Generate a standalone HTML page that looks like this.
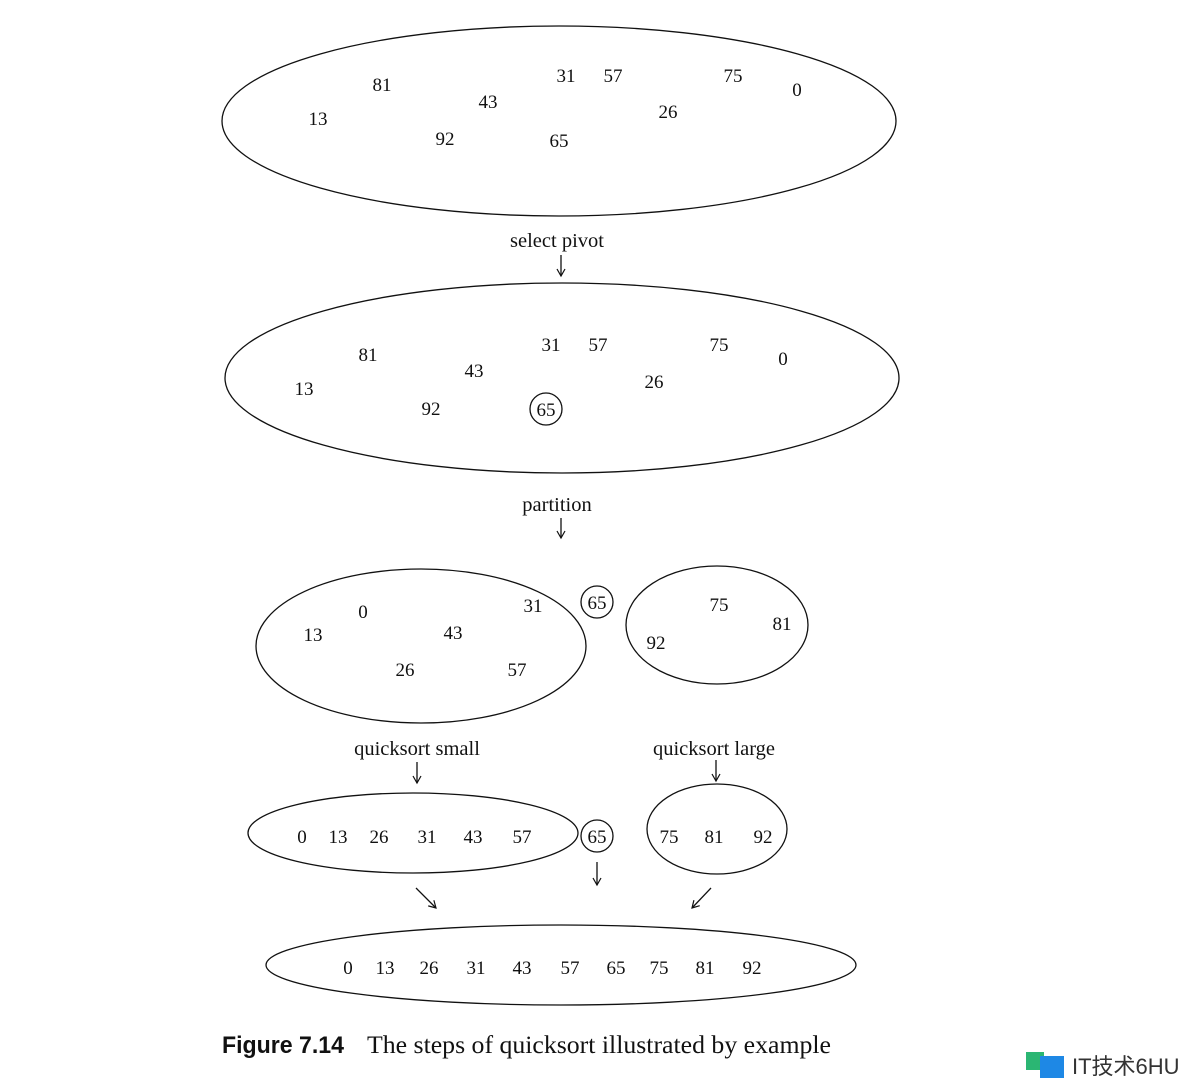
<!DOCTYPE html>
<html><head><meta charset="utf-8"><style>
html,body{margin:0;padding:0;background:#fff;}
svg{display:block;}
text{font-family:"Liberation Serif",serif;font-size:19px;fill:#111;}
.l{font-size:20.5px;}
</style></head><body>
<svg width="1187" height="1084" viewBox="0 0 1187 1084" xmlns="http://www.w3.org/2000/svg">
<defs><marker id="a" markerWidth="10" markerHeight="10" refX="8" refY="5" orient="auto" markerUnits="userSpaceOnUse"><path d="M1,1 L8,5 L1,9" fill="none" stroke="#111" stroke-width="1.2"/></marker></defs>
<g fill="none" stroke="#111" stroke-width="1.3">
<ellipse cx="559" cy="121" rx="337" ry="95"/>
<ellipse cx="562" cy="378" rx="337" ry="95"/>
<ellipse cx="421" cy="646" rx="165" ry="77"/>
<ellipse cx="717" cy="625" rx="91" ry="59"/>
<ellipse cx="413" cy="833" rx="165" ry="40"/>
<ellipse cx="717" cy="829" rx="70" ry="45"/>
<ellipse cx="561" cy="965" rx="295" ry="40"/>
<circle cx="546" cy="409" r="16"/>
<circle cx="597" cy="602" r="16"/>
<circle cx="597" cy="836" r="16"/>
<line x1="561" y1="255" x2="561" y2="276" marker-end="url(#a)"/>
<line x1="561" y1="518" x2="561" y2="538" marker-end="url(#a)"/>
<line x1="417" y1="762" x2="417" y2="783" marker-end="url(#a)"/>
<line x1="716" y1="760" x2="716" y2="781" marker-end="url(#a)"/>
<line x1="416" y1="888" x2="436" y2="908" marker-end="url(#a)"/>
<line x1="597" y1="862" x2="597" y2="885" marker-end="url(#a)"/>
<line x1="711" y1="888" x2="692" y2="908" marker-end="url(#a)"/>
</g>
<g text-anchor="middle">
<text x="382" y="91">81</text><text x="566" y="82">31</text><text x="613" y="82">57</text><text x="733" y="82">75</text><text x="797" y="96">0</text>
<text x="488" y="108">43</text><text x="318" y="125">13</text><text x="668" y="118">26</text><text x="445" y="145">92</text><text x="559" y="147">65</text>
<text class="l" x="557" y="247">select pivot</text>
<text x="368" y="361">81</text><text x="551" y="351">31</text><text x="598" y="351">57</text><text x="719" y="351">75</text><text x="783" y="365">0</text>
<text x="474" y="377">43</text><text x="304" y="395">13</text><text x="654" y="388">26</text><text x="431" y="415">92</text><text x="546" y="416">65</text>
<text class="l" x="557" y="511">partition</text>
<text x="363" y="618">0</text><text x="533" y="612">31</text><text x="313" y="641">13</text><text x="453" y="639">43</text><text x="405" y="676">26</text><text x="517" y="676">57</text>
<text x="597" y="609">65</text>
<text x="719" y="611">75</text><text x="782" y="630">81</text><text x="656" y="649">92</text>
<text class="l" x="417" y="755">quicksort small</text><text class="l" x="714" y="755">quicksort large</text>
<text x="302" y="843">0</text><text x="338" y="843">13</text><text x="379" y="843">26</text><text x="427" y="843">31</text><text x="473" y="843">43</text><text x="522" y="843">57</text>
<text x="597" y="843">65</text>
<text x="669" y="843">75</text><text x="714" y="843">81</text><text x="763" y="843">92</text>
<text x="348" y="974">0</text><text x="385" y="974">13</text><text x="429" y="974">26</text><text x="476" y="974">31</text><text x="522" y="974">43</text><text x="570" y="974">57</text><text x="616" y="974">65</text><text x="659" y="974">75</text><text x="705" y="974">81</text><text x="752" y="974">92</text>
</g>
<text x="222" y="1053" textLength="122" lengthAdjust="spacingAndGlyphs" style="font-family:'Liberation Sans',sans-serif;font-weight:bold;font-size:24px">Figure 7.14</text>
<text x="367" y="1053" textLength="464" lengthAdjust="spacingAndGlyphs" style="font-size:25.5px">The steps of quicksort illustrated by example</text>
<rect x="1026" y="1052" width="18" height="18" fill="#2bb673"/>
<rect x="1040" y="1056" width="24" height="22" fill="#1e88e5"/>
<text x="1072" y="1074" style="font-family:'Liberation Sans','Noto Sans CJK SC',sans-serif;font-size:22px;fill:#333">IT技术6HU</text>
</svg>
</body></html>
